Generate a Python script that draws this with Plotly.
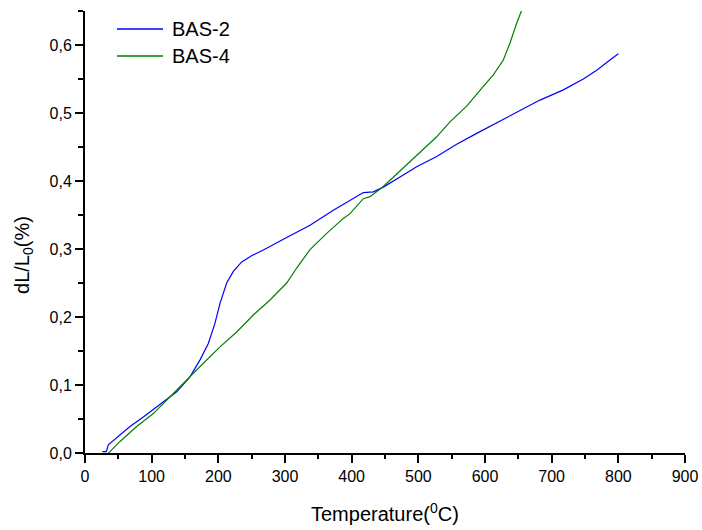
import plotly.graph_objects as go

bas2_t = [26, 32, 35, 50, 67.5, 87.5, 112.5, 137.5, 157.5, 172.5, 185, 195, 202.5, 212.5, 222.5,
          235, 250, 272.5, 302.5, 337.5, 372.5, 397.5, 417.5, 432.5, 447.5, 472.5, 497.5, 527.5,
          557.5, 587.5, 617.5, 647.5, 682.5, 717.5, 747.5, 767.5, 787.5, 800]
bas2_v = [0.002, 0.002, 0.012, 0.024, 0.039, 0.053, 0.071, 0.090, 0.112, 0.137, 0.161, 0.191,
          0.220, 0.250, 0.267, 0.281, 0.290, 0.301, 0.317, 0.335, 0.357, 0.372, 0.383, 0.384,
          0.391, 0.406, 0.421, 0.436, 0.454, 0.470, 0.485, 0.501, 0.519, 0.534, 0.550, 0.563,
          0.578, 0.587]

bas4_t = [35, 37.5, 52.5, 77.5, 102.5, 127.5, 152.5, 177.5, 202.5, 227.5, 252.5, 277.5, 302.5,
          317.5, 337.5, 362.5, 387.5, 397.5, 417.5, 427.5, 447.5, 467.5, 497.5, 527.5, 547.5,
          572.5, 597.5, 612.5, 627.5, 637.5, 647.5, 655]
bas4_v = [0.0, 0.002, 0.017, 0.039, 0.058, 0.083, 0.107, 0.132, 0.156, 0.178, 0.203, 0.225,
          0.250, 0.272, 0.299, 0.323, 0.345, 0.352, 0.374, 0.377, 0.392, 0.410, 0.438, 0.465,
          0.487, 0.510, 0.539, 0.556, 0.578, 0.603, 0.632, 0.651]

series_names = ["BAS-2", "BAS-4"]
series_colors = ["#0000FF", "#008000"]

fig = go.Figure()
fig.add_trace(go.Scatter(x=bas2_t, y=bas2_v, mode="lines", name=series_names[0],
                         line=dict(color=series_colors[0], width=1.2), showlegend=False))
fig.add_trace(go.Scatter(x=bas4_t, y=bas4_v, mode="lines", name=series_names[1],
                         line=dict(color=series_colors[1], width=1.2), showlegend=False))

font = "Liberation Sans, Arial, sans-serif"
axis_common = dict(showline=True, linecolor="black", linewidth=2, ticks="outside",
                   ticklen=8, tickwidth=2, tickcolor="black", showgrid=False, zeroline=False,
                   automargin=False,
                   tickfont=dict(family=font, size=16, color="black"))

# manual legend (line samples + labels) in the upper-left corner
legend_y = [0.9593, 0.8982]
shapes = []
annotations = []
for name, color, ly in zip(series_names, series_colors, legend_y):
    shapes.append(dict(type="line", xref="paper", yref="paper", x0=0.0533, x1=0.13,
                       y0=ly, y1=ly, line=dict(color=color, width=1.5)))
    annotations.append(dict(text=name, xref="paper", yref="paper", x=0.1417, y=ly,
                            xanchor="left", yanchor="middle", showarrow=False,
                            font=dict(family=font, size=20, color="black")))

annotations.append(dict(text="Temperature(<sup>0</sup>C)", xref="paper", yref="paper",
                        x=0.5, y=-0.1335, xanchor="center", yanchor="middle", showarrow=False,
                        font=dict(family=font, size=20, color="black")))
annotations.append(dict(text="dL/L<sub>0</sub>(%)", xref="paper", yref="paper",
                        x=-0.1017, y=0.448, xanchor="center", yanchor="middle", showarrow=False,
                        textangle=-90, font=dict(family=font, size=20, color="black")))

fig.update_layout(
    width=702, height=530,
    margin=dict(l=85, r=17, t=11, b=77),
    paper_bgcolor="white", plot_bgcolor="white",
    separators=",.",
    font=dict(family=font, color="black"),
    showlegend=False,
    shapes=shapes,
    annotations=annotations,
    xaxis=dict(range=[0, 900], dtick=100, tick0=0,
               minor=dict(ticks="outside", dtick=50, ticklen=4, tickwidth=2, tickcolor="black"),
               **axis_common),
    yaxis=dict(range=[0, 0.65], dtick=0.1, tick0=0, tickformat=".1f",
               minor=dict(ticks="outside", dtick=0.05, ticklen=5, tickwidth=2, tickcolor="black"),
               **axis_common),
)

fig.write_html("out.html", config={"displayModeBar": False},
               post_script="document.body.style.margin='0';document.body.style.overflow='hidden';")
